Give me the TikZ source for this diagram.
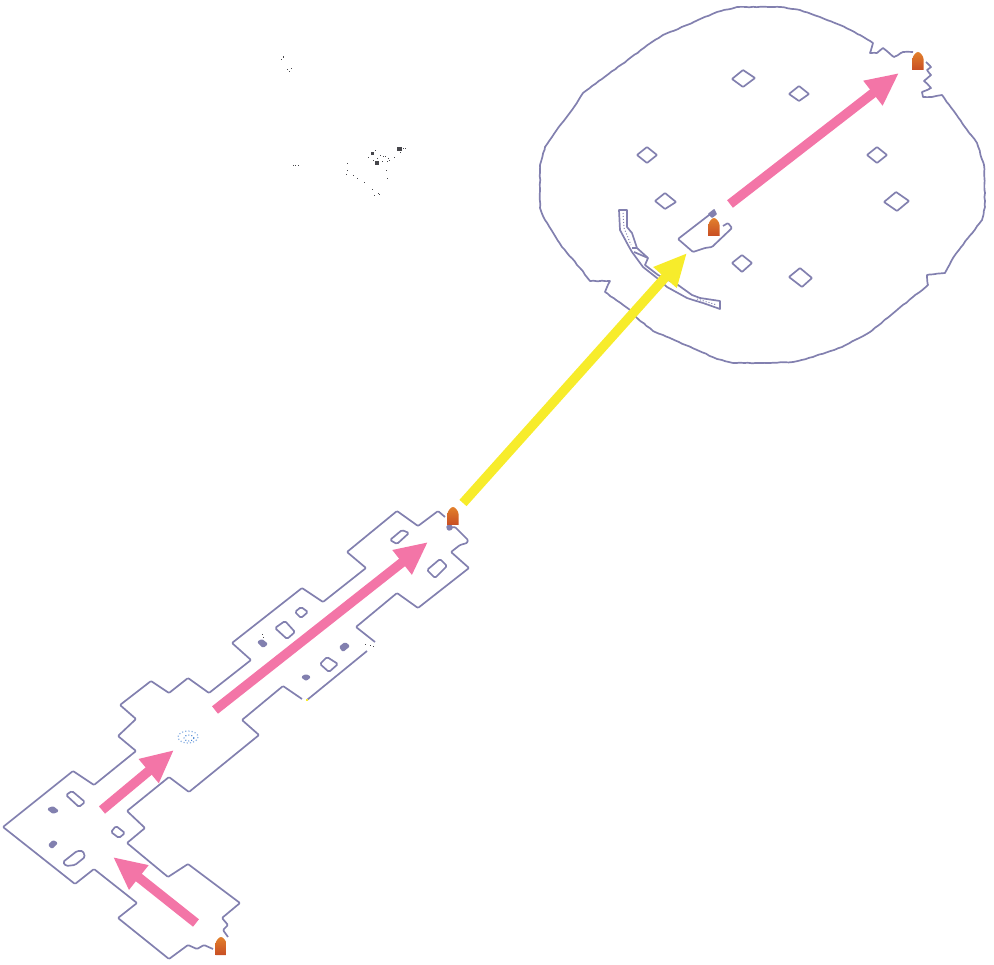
\documentclass[tikz,border=0pt]{standalone}
\usetikzlibrary{arrows.meta,decorations.pathmorphing}
\definecolor{wallc}{RGB}{130,128,175}
\definecolor{pinkc}{RGB}{243,117,167}
\definecolor{yellowc}{RGB}{247,236,43}
\definecolor{markt}{RGB}{226,128,44}
\definecolor{markb}{RGB}{200,78,36}
\definecolor{dotc}{RGB}{70,70,75}
\definecolor{blobc}{RGB}{70,130,210}
\tikzset{
  wall/.style={draw=wallc,line width=1.7pt,line join=round},
  wallfill/.style={wall,fill=wallc},
  route/.style={line cap=butt,line width=9.5pt,-{Triangle[length=33pt,width=29pt]}},
  pinkroute/.style={route,draw=pinkc,color=pinkc},
  yellowroute/.style={route,draw=yellowc,color=yellowc},
}
\begin{document}
\begin{tikzpicture}[x=1pt,y=-1pt,line join=round]
\useasboundingbox (0,0) rectangle (994,965);
% lower corridor
\draw[wall,rounded corners=1pt] (445,517)--(438,511)--(418,526)--(397,511)--(347,552)--(366,568)--(323,602)--(302,588)--(232,643)--(251,660)--(209,693)--(188,678)--(169,693)--(151,681)--(120,705)--(136,719)--(118,736)--(136,751)--(94,785)--(73,771)--(3,827)--(75,884)--(94,869)--(137,903)--(118,918)--(169,959)--(188,945)--(197,949)--(204,945)--(213,949);
\draw[wall,rounded corners=1pt] (228,937)--(223,930)--(228,925)--(222,918)--(240,903)--(188,864)--(168,877)--(127,843)--(145,828)--(127,811)--(169,777)--(189,792)--(259,735)--(242,720)--(283,686)--(302,699);
\draw[wall] (307,700)--(367,651);
\draw[wall,rounded corners=1pt] (375,642)--(356,627)--(397,593)--(418,608)--(469,568)--(451,552)--(460,545)--(467,543)--(468,540)--(455,527)--(447,528);
\foreach \hole in {
  {(66,795)--(72,791)--(85,802)--(79,807)},
  {(111,832)--(116,826)--(125,833)--(119,838)},
  {(63,862)--(77,851)--(83,851)--(85,857)--(75,865)--(66,866)},
  {(390,540)--(402,530)--(409,533)--(397,544)},
  {(427,570)--(440,559)--(447,566)--(435,578)},
  {(295,612)--(301,607)--(308,612)--(301,618)},
  {(275,628)--(285,621)--(295,632)--(287,639)},
  {(320,664)--(327,657)--(338,664)--(329,672)}}
  \draw[wall,rounded corners=1.5pt] \hole--cycle;
\foreach \hole in {
  {(48,809)--(53,807)--(58,811)--(53,813)},
  {(49,845)--(53,841)--(57,843)--(52,848)},
  {(258,642)--(262,640)--(267,644)--(263,647)},
  {(340,647)--(345,643)--(349,646)--(343,651)},
  {(302,677)--(306,675)--(310,677)--(306,680)},
  {(447,526)--(451,525)--(452,529)--(448,530)}}
  \draw[wallfill,rounded corners=1pt] \hole--cycle;
\draw[blobc!60,line width=1.2pt,dotted] (188,737) ellipse (10 and 6);
\draw[blobc,line width=1pt,dotted] (189,738) ellipse (5 and 3);
% round hall
\pgfmathsetseed{7}
\draw[wall,decorate,decoration={random steps,segment length=4pt,amplitude=.35pt}] (926,62)--(931,67)--(927,70)--(931,75)--(924,81)--(931,88)--(922,92)--(923,97)--(932,97)--(942,95)--(962,123)--(977,143)--(984,165)--(985,207)--(982,220)--(968,238)--(953,258)--(945,273)--(927,275)--(928,285)--(870,332)--(842,347)--(813,357)--(793,362)--(760,363)--(733,363)--(717,359)--(697,350)--(670,338)--(653,331)--(637,318)--(630,310)--(605,292)--(610,281)--(590,281)--(580,268)--(562,247)--(545,220)--(540,208)--(540,165)--(545,147)--(562,123)--(572,110)--(583,93)--(652,42)--(663,35)--(687,25)--(717,12)--(737,7)--(780,7)--(800,10)--(820,17)--(840,25)--(860,35)--(873,43)--(870,53)--(877,53)--(883,48)--(894,57)--(903,52)--(913,52);
\foreach \hole in {
  {(732,79)--(743,70)--(755,78)--(743,87)},
  {(637,155)--(647,147)--(657,155)--(647,163)},
  {(655,201)--(665,193)--(676,202)--(665,209)},
  {(732,263)--(742,255)--(752,263)--(742,272)},
  {(789,94)--(799,86)--(809,94)--(799,101)},
  {(867,155)--(877,147)--(887,155)--(877,163)},
  {(884,202)--(896,192)--(909,201)--(897,211)},
  {(789,277)--(800,268)--(812,278)--(802,287)}}
  \draw[wall,rounded corners=.6pt] \hole--cycle;
\draw[wall,rounded corners=1pt] (713,212)--(678,239)--(693,252)--(705,248)--(712,247)--(732,228)--(728,223)--(723,226);
\draw[wallfill] (709,214)--(714,210)--(716,214)--(712,217)--cycle;
% crescent
\draw[wall] (619,210)--(627,210)--(627,227)--(632,233)--(637,248)--(648,258)--(645,265)--(658,275)--(678,285)--(692,295)--(700,298)--(720,301)--(720,309)--(703,303)--(693,300)--(687,298)--(667,287)--(657,278)--(643,267)--(632,252)--(628,245)--(620,230)--cycle;
\draw[wall] (632,248)--(637,248);
\draw[wall] (634,252)--(648,258);
\draw[wallc,line width=1pt,dotted] (623,213)--(624,228)--(631,245);
\draw[wallc,line width=1pt,dotted] (697,299)--(717,305);
% stray dots
\foreach \dotx/\doty in {283/57,281/60,283/58,291/69,289/72,287/70,293/166,295/166,298/166,403/149,405/149,400/153,372/153,375/151,380/156,383/157,377/159,368/158,373/161,382/162,387/162,389/161,388/159,394/158,385/157,347/164,347/171,346/175,353/176,357/179,364/183,386/171,387/179,372/190,374/196,378/194,379/195,262/634,263/637,365/644,370/645,373/646}
  \fill[dotc] (\dotx-.5,\doty-.5) rectangle (\dotx+.5,\doty+.5);
\fill[dotc] (396.5,147) rectangle (401.5,151.5);
\fill[dotc] (375,161) rectangle (379,165);
\fill[dotc] (371,152) rectangle (374,155);
\fill[yellowc] (306,699) rectangle (308,701);
% routes
\coordinate (s1) at (196,923); \coordinate (e1) at (113,857);
\coordinate (s2) at (102,810); \coordinate (e2) at (174,750);
\coordinate (s3) at (215,710); \coordinate (e3) at (428,542);
\coordinate (s4) at (730,204); \coordinate (e4) at (899,73);
\coordinate (s5) at (463,503); \coordinate (e5) at (687,253);
\draw[pinkroute] (s1)--(e1);
\draw[pinkroute] (s2)--(e2);
\draw[pinkroute] (s3)--(e3);
\draw[pinkroute] (s4)--(e4);
\draw[yellowroute] (s5)--(e5);
% way points
\foreach \mx/\my in {221/946,453/516,714/227,918/61}
  \shade[top color=markt,bottom color=markb] (\mx-5.5,\my+9)--(\mx-5.5,\my-2) .. controls (\mx-5.5,\my-5) and (\mx-2,\my-9) .. (\mx,\my-9) .. controls (\mx+2,\my-9) and (\mx+5.5,\my-5) .. (\mx+5.5,\my-2)--(\mx+5.5,\my+9)--cycle;
\end{tikzpicture}
\end{document}
